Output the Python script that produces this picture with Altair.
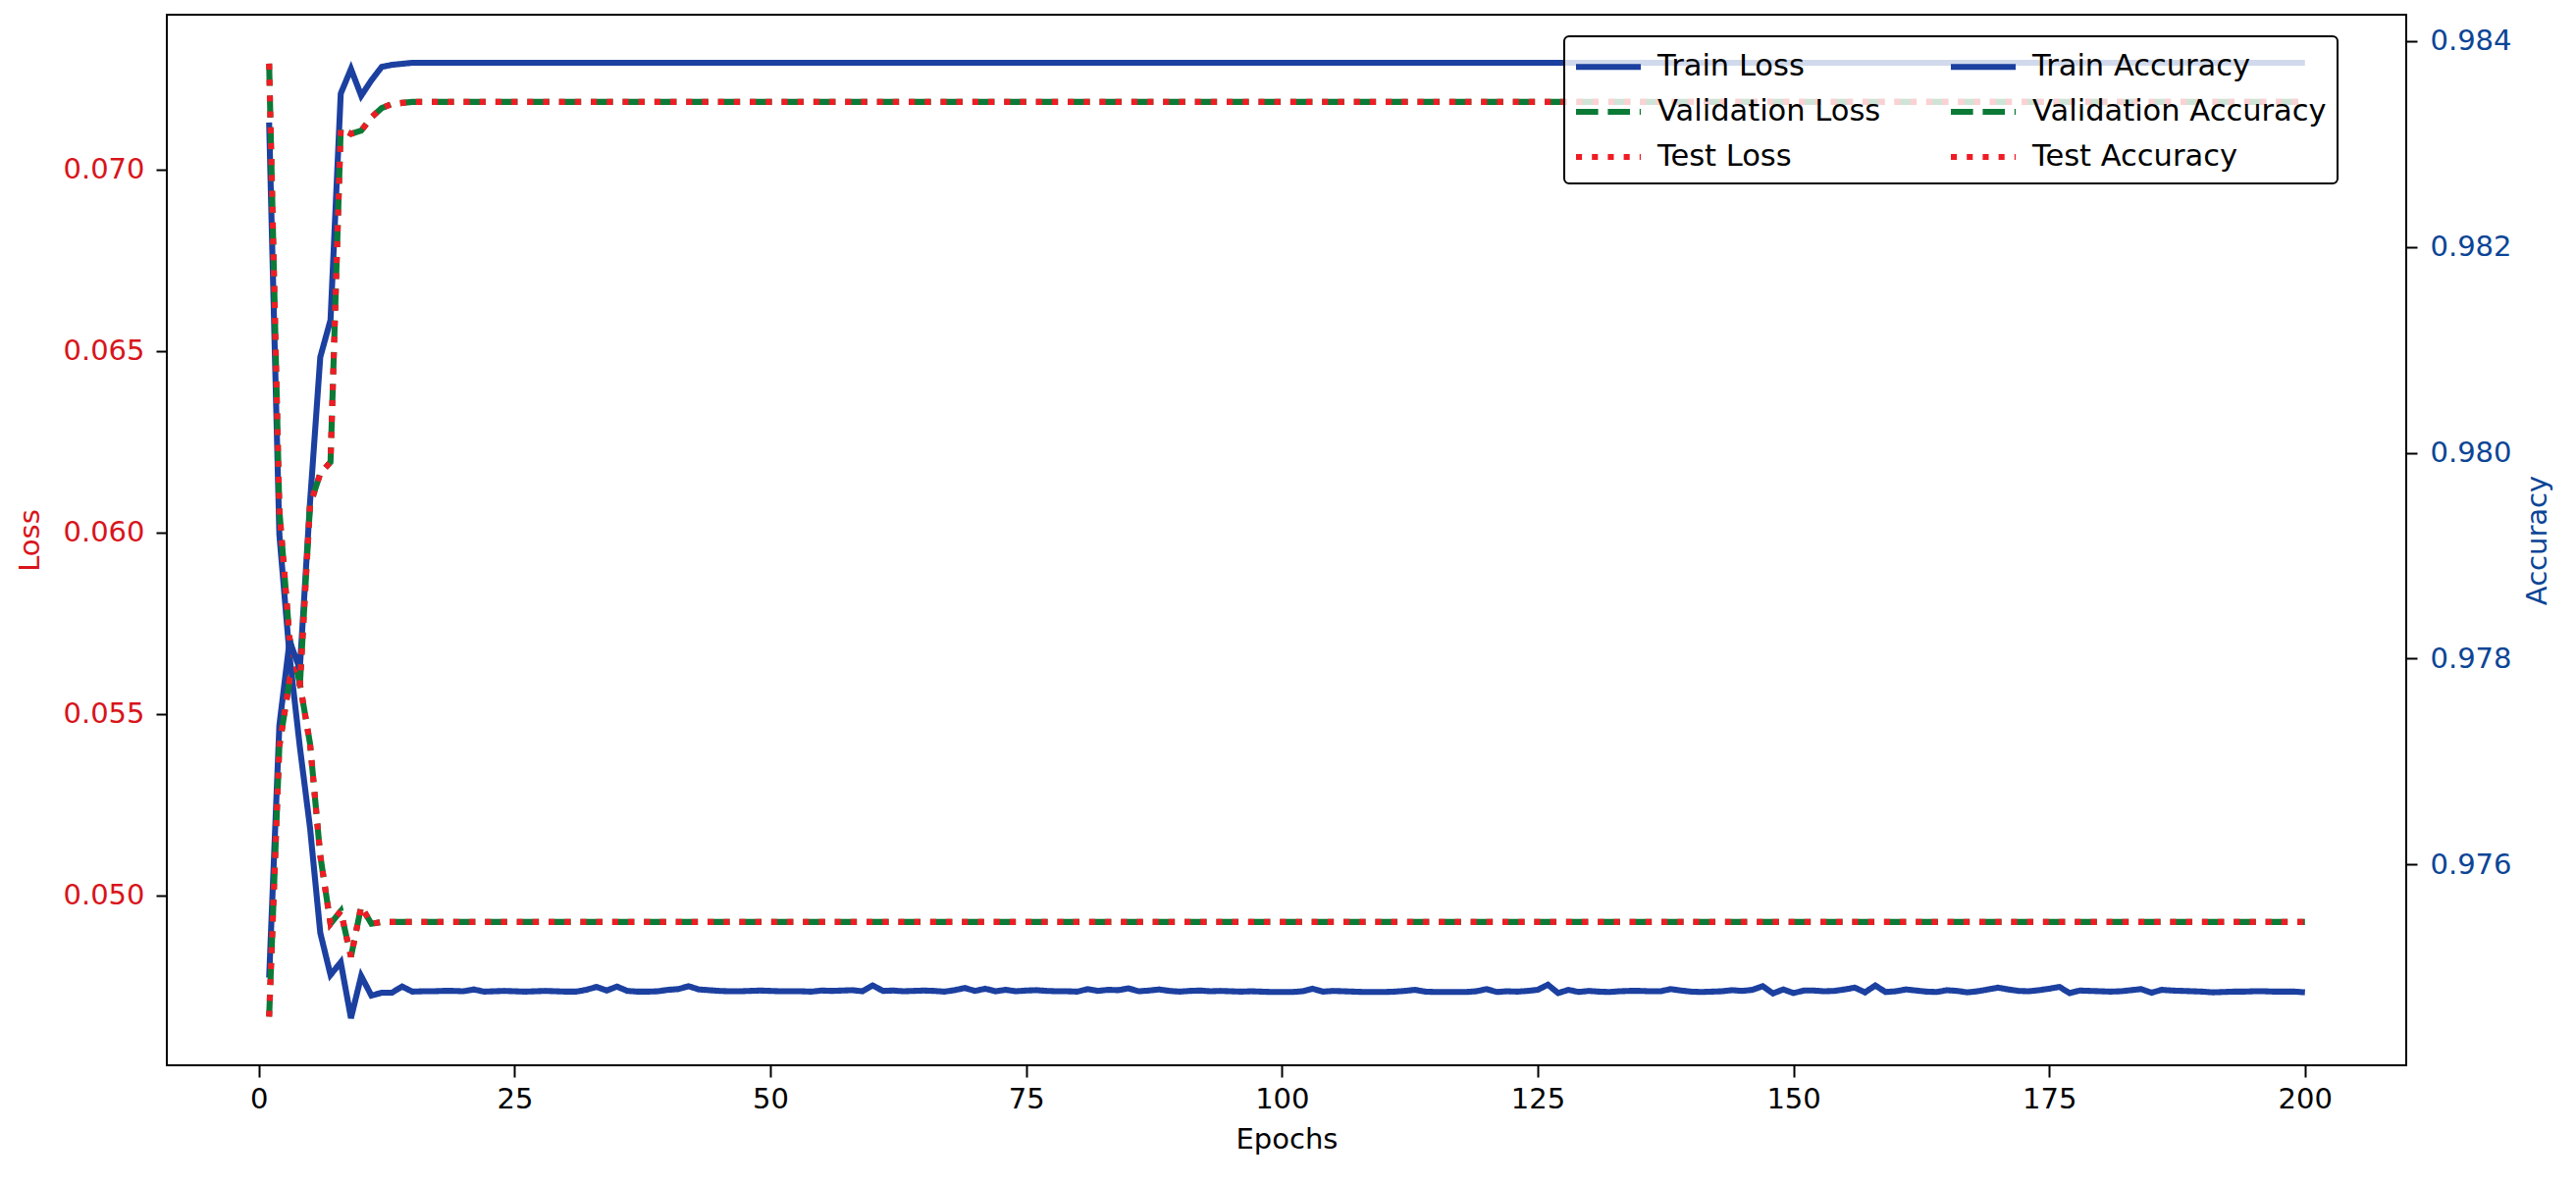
import altair as alt
import pandas as pd

# ---------------- data ----------------
epochs = list(range(1, 201))

train_loss = [
    # 1-10
    0.07130, 0.05995, 0.05660, 0.05410, 0.05186, 0.04897, 0.04781, 0.04816, 0.04662, 0.04778,
    # 11-20
    0.04724, 0.04732, 0.04732, 0.04749, 0.04735, 0.04736, 0.04736, 0.04737, 0.04737, 0.04736,
    # 21-30
    0.04741, 0.04735, 0.04736, 0.04737, 0.04736, 0.04735, 0.04736, 0.04737, 0.04736, 0.04735,
    # 31-40
    0.04735, 0.04740, 0.04748, 0.04738, 0.04749, 0.04737, 0.04735, 0.04735, 0.04736, 0.04740,
    # 41-50
    0.04742, 0.04750, 0.04741, 0.04739, 0.04737, 0.04736, 0.04736, 0.04737, 0.04738, 0.04737,
    # 51-60
    0.04736, 0.04736, 0.04736, 0.04735, 0.04738, 0.04737, 0.04738, 0.04739, 0.04736, 0.04752,
    # 61-70
    0.04737, 0.04738, 0.04736, 0.04737, 0.04738, 0.04737, 0.04735, 0.04739, 0.04745, 0.04737,
    # 71-80
    0.04743, 0.04736, 0.04740, 0.04736, 0.04738, 0.04739, 0.04737, 0.04736, 0.04736, 0.04735,
    # 81-90
    0.04742, 0.04737, 0.04740, 0.04739, 0.04744, 0.04736, 0.04738, 0.04741, 0.04737, 0.04735,
    # 91-100
    0.04737, 0.04738, 0.04736, 0.04737, 0.04736, 0.04735, 0.04736, 0.04735, 0.04734, 0.04734,
    # 101-110
    0.04734, 0.04736, 0.04743, 0.04735, 0.04737, 0.04736, 0.04735, 0.04734, 0.04734, 0.04734,
    # 111-120
    0.04735, 0.04737, 0.04740, 0.04735, 0.04734, 0.04734, 0.04734, 0.04734, 0.04736, 0.04742,
    # 121-130
    0.04734, 0.04736, 0.04735, 0.04737, 0.04740, 0.04754, 0.04731, 0.04740, 0.04734, 0.04737,
    # 131-140
    0.04735, 0.04734, 0.04736, 0.04737, 0.04737, 0.04736, 0.04736, 0.04742, 0.04738, 0.04735,
    # 141-150
    0.04734, 0.04735, 0.04736, 0.04739, 0.04737, 0.04740, 0.04750, 0.04730, 0.04741, 0.04731,
    # 151-160
    0.04738, 0.04738, 0.04736, 0.04737, 0.04741, 0.04746, 0.04733, 0.04752, 0.04734, 0.04736,
    # 161-170
    0.04741, 0.04738, 0.04735, 0.04734, 0.04739, 0.04737, 0.04733, 0.04736, 0.04741, 0.04746,
    # 171-180
    0.04741, 0.04737, 0.04736, 0.04739, 0.04743, 0.04748, 0.04731, 0.04738, 0.04737, 0.04736,
    # 181-190
    0.04735, 0.04736, 0.04739, 0.04742, 0.04732, 0.04740, 0.04738, 0.04737, 0.04736, 0.04735,
    # 191-200
    0.04733, 0.04734, 0.04735, 0.04735, 0.04736, 0.04736, 0.04735, 0.04735, 0.04735, 0.04733,
]
val_loss = [
    0.07292, 0.06062, 0.05708, 0.05584, 0.05418, 0.05110, 0.04922, 0.04957, 0.04831, 0.04970,
    0.04922, 0.04927, 0.04927, 0.04927, 0.04927,
] + [0.04927] * 185
test_loss = [
    0.07292, 0.06062, 0.05708, 0.05584, 0.05418, 0.05110, 0.04922, 0.04957, 0.04831, 0.04970,
    0.04922, 0.04927, 0.04927, 0.04927, 0.04927,
] + [0.04927] * 185

train_acc = [
    0.97490, 0.97735, 0.97817, 0.97790, 0.97952, 0.98093, 0.98129, 0.98349, 0.98373, 0.98347,
    0.98362, 0.98375, 0.98377, 0.98378, 0.98379,
] + [0.98379] * 185
val_acc = [
    0.97452, 0.97715, 0.97779, 0.97773, 0.97949, 0.97980, 0.97991, 0.98315, 0.98310, 0.98313,
    0.98326, 0.98335, 0.98339, 0.98340, 0.98341,
] + [0.98341] * 185
test_acc = list(val_acc)

# legend fills column by column: losses in the first column, accuracies in the second
series_order = ["Train Loss", "Validation Loss", "Test Loss",
                "Train Accuracy", "Validation Accuracy", "Test Accuracy"]

# ---------------- styling ----------------
FONT = "DejaVu Sans"
FS = 29
LEG_FS = 30.5
LOSS_COL = "#d8141b"
ACC_COL = "#0b4596"
BLUE = "#1c40a0"
GREEN = "#0b7a36"
RED = "#ef1c24"
LW = 6.1

color_scale = alt.Scale(domain=series_order,
                        range=[BLUE, GREEN, RED, BLUE, GREEN, RED])
dash_scale = alt.Scale(domain=series_order,
                       range=[[1, 0], [22.6, 9.8], [6.1, 10.1],
                              [1, 0], [22.6, 9.8], [6.1, 10.1]])

legend = alt.Legend(
    title=None, orient="none", legendX=1424, legendY=22, columns=2,
    symbolType="M-2,0H2", symbolSize=1089, symbolStrokeWidth=LW,
    symbolOffset=14,
    labelFontSize=LEG_FS, labelFont=FONT, labelColor="black", labelOffset=30,
    labelLimit=0, columnPadding=58, rowPadding=10, padding=11,
    strokeColor="black", cornerRadius=5,
    fillColor="rgba(255,255,255,0.8)",
)

x_enc = alt.X("epoch:Q",
              scale=alt.Scale(domain=[-9.0, 209.9], nice=False, zero=False),
              axis=alt.Axis(title="Epochs", values=list(range(0, 201, 25)),
                            labelFontSize=FS, titleFontSize=FS,
                            labelColor="black", titleColor="black",
                            titleFontWeight="normal", tickSize=12, tickWidth=2,
                            tickColor="black", labelPadding=8, titlePadding=12,
                            domain=False, grid=False, labelFont=FONT,
                            titleFont=FONT))

loss_axis = alt.Axis(title="Loss", values=[0.050, 0.055, 0.060, 0.065, 0.070],
                     format=".3f", labelFontSize=FS, titleFontSize=FS,
                     labelColor=LOSS_COL, titleColor=LOSS_COL,
                     titleFontWeight="normal", tickSize=11, tickWidth=2,
                     tickColor="black", labelPadding=12, titlePadding=18,
                     domain=False, grid=False, labelFont=FONT, titleFont=FONT)
acc_axis = alt.Axis(title="Accuracy", orient="right",
                    values=[0.976, 0.978, 0.980, 0.982, 0.984],
                    format=".3f", labelFontSize=FS, titleFontSize=FS,
                    labelColor=ACC_COL, titleColor=ACC_COL,
                    titleFontWeight="normal", tickSize=11, tickWidth=2,
                    tickColor="black", labelPadding=13, titlePadding=12,
                    titleAngle=270, titleBaseline="top",
                    domain=False, grid=False, labelFont=FONT, titleFont=FONT)

loss_scale = alt.Scale(domain=[0.04532, 0.07427], nice=False, zero=False)
acc_scale = alt.Scale(domain=[0.974048, 0.984257], nice=False, zero=False)


def series_df(name, values):
    return pd.DataFrame({"epoch": epochs, "value": values, "series": name})


def line(name, values, yscale, yaxis, ytitle):
    return alt.Chart(series_df(name, values)).mark_line(
        strokeWidth=LW, clip=True
    ).encode(
        x=x_enc,
        y=alt.Y("value:Q", scale=yscale, axis=yaxis, title=ytitle),
        color=alt.Color("series:N", scale=color_scale, legend=legend),
        strokeDash=alt.StrokeDash("series:N", scale=dash_scale, legend=legend),
    )


loss_layer = alt.layer(
    line("Train Loss", train_loss, loss_scale, loss_axis, "Loss"),
    line("Validation Loss", val_loss, loss_scale, loss_axis, "Loss"),
    line("Test Loss", test_loss, loss_scale, loss_axis, "Loss"),
)
acc_layer = alt.layer(
    line("Train Accuracy", train_acc, acc_scale, acc_axis, "Accuracy"),
    line("Validation Accuracy", val_acc, acc_scale, acc_axis, "Accuracy"),
    line("Test Accuracy", test_acc, acc_scale, acc_axis, "Accuracy"),
)

chart = alt.layer(loss_layer, acc_layer).resolve_scale(
    y="independent"
).properties(
    width=2282, height=1071,
    autosize=alt.AutoSizeParams(type="none"),
    padding={"left": 162, "top": 7, "right": 160, "bottom": 110},
).configure(
    font=FONT, background="white"
).configure_view(
    stroke="black", strokeWidth=2
).configure_legend(
    strokeWidth=2
)

chart.save("out.html", embed_options={"renderer": "svg", "actions": False})
